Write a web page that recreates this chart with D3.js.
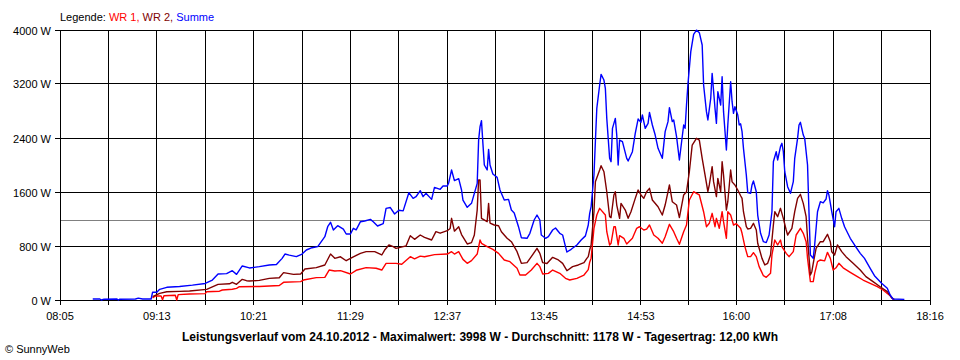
<!DOCTYPE html>
<html>
<head>
<meta charset="utf-8">
<script src="https://cdn.jsdelivr.net/npm/d3@7"></script>
<style>
  html, body { margin: 0; padding: 0; background: #fff; }
  svg { display: block; }
  text { font-family: "Liberation Sans", Arial, sans-serif; }
</style>
</head>
<body>
<svg id="chart" width="960" height="360"></svg>
<script>
// ---------- data ----------
const timeLabels = ["08:05","09:13","10:21","11:29","12:37","13:45","14:53","16:00","17:08","18:16"];
const yTickValues = [0, 800, 1600, 2400, 3200, 4000];
const averageValue = 1178;
const legendItems = [
  { text: "WR 1,", color: "#ff0000" },
  { text: " WR 2,", color: "#800000" },
  { text: " Summe", color: "#0000ff" }
];
const titleText = "Leistungsverlauf vom 24.10.2012 - Maximalwert: 3998 W - Durchschnitt: 1178 W - Tagesertrag: 12,00 kWh";
const copyrightText = "\u00A9 SunnyWeb";

// WR 1 (red)
const wr1 = [
  ["09:10",30],["09:12",59],["09:16",60],["09:17",5],["09:18",62],["09:26",70],["09:27",0],["09:28",80],
  ["09:36",89],["09:47",95],["09:48",123],["09:57",130],["09:59",148],["10:06",160],["10:09",173],["10:11",197],
  ["10:25",200],["10:32",207],["10:39",215],["10:42",262],["10:54",272],["10:56",296],["11:05",331],["11:11",335],
  ["11:14",444],["11:18",430],["11:22",435],["11:29",385],["11:33",440],["11:40",479],["11:47",470],["11:51",444],
  ["11:54",543],["12:01",543],["12:05",530],["12:11",642],["12:14",610],["12:18",650],["12:21",640],["12:28",672],
  ["12:37",681],["12:40",716],["12:42",681],["12:45",716],["12:48",602],["12:51",543],["12:54",583],["12:58",681],
  ["13:00",889],["13:01",840],["13:05",790],["13:09",751],["13:13",691],["13:17",593],["13:21",568],["13:26",469],
  ["13:28",370],["13:32",370],["13:36",444],["13:40",543],["13:42",494],["13:44",385],["13:48",395],["13:51",444],
  ["13:56",395],["14:00",321],["14:03",296],["14:08",321],["14:13",370],["14:16",450],["14:17",560],["14:18",620],
  ["14:20",1062],["14:22",1259],["14:24",1358],["14:28",1259],["14:29",1012],["14:31",815],["14:32",840],["14:34",1086],
  ["14:35",1086],["14:37",815],["14:38",953],["14:41",914],["14:43",830],["14:47",914],["14:50",1062],["14:52",1086],
  ["14:55",1037],["14:57",1050],["14:59",1111],["15:02",963],["15:05",914],["15:08",840],["15:10",938],["15:13",1121],
  ["15:16",1012],["15:18",914],["15:20",825],["15:23",1012],["15:25",1111],["15:27",1481],["15:30",1604],["15:32",1580],
  ["15:34",1556],["15:37",1308],["15:39",1086],["15:41",1136],["15:43",1284],["15:45",1086],["15:46",1210],["15:48",1062],
  ["15:50",1308],["15:51",1160],["15:53",914],["15:54",1308],["15:56",1260],["15:58",1111],["16:00",1130],["16:03",1062],
  ["16:04",988],["16:06",790],["16:08",642],["16:10",642],["16:12",701],["16:14",642],["16:16",494],["16:19",360],
  ["16:21",336],["16:24",395],["16:25",667],["16:27",889],["16:29",815],["16:31",889],["16:32",790],["16:35",691],
  ["16:37",642],["16:40",716],["16:42",963],["16:45",1062],["16:47",988],["16:49",864],["16:50",617],["16:52",272],
  ["16:54",272],["16:55",395],["16:57",568],["16:59",593],["17:02",580],["17:04",706],["17:06",617],["17:08",444],
  ["17:10",477],["17:12",543],["17:15",477],["17:20",410],["17:25",346],["17:29",296],["17:34",247],["17:39",197],
  ["17:43",148],["17:48",64],["17:50",10]
];

// WR 2 (dark red)
const wr2 = [
  ["09:10",49],["09:15",99],["09:20",123],["09:29",128],["09:36",133],["09:48",158],["09:56",232],["10:04",240],
  ["10:06",262],["10:09",232],["10:13",306],["10:16",286],["10:18",281],["10:25",290],["10:32",321],["10:39",330],
  ["10:42",405],["10:49",380],["10:54",385],["10:57",459],["11:05",479],["11:11",519],["11:15",681],["11:18",617],
  ["11:22",640],["11:26",582],["11:31",640],["11:36",691],["11:40",716],["11:46",716],["11:51",667],["11:53",740],
  ["11:56",815],["11:59",790],["12:01",765],["12:06",790],["12:08",800],["12:11",953],["12:14",899],["12:18",963],
  ["12:21",928],["12:26",889],["12:29",1012],["12:32",990],["12:37",1027],["12:39",1060],["12:40",1210],["12:42",1020],
  ["12:45",1086],["12:47",970],["12:51",830],["12:54",850],["12:56",963],["12:58",1333],["12:59",1778],["13:00",1778],
  ["13:01",1210],["13:05",1160],["13:06",1432],["13:07",1140],["13:10",1111],["13:13",1100],["13:15",1012],["13:19",914],
  ["13:22",864],["13:26",716],["13:29",543],["13:33",553],["13:36",642],["13:40",765],["13:42",691],["13:44",553],
  ["13:47",540],["13:51",632],["13:55",593],["13:58",543],["14:01",434],["14:05",494],["14:09",519],["14:13",553],
  ["14:15",617],["14:16",642],["14:17",741],["14:18",815],["14:20",1308],["14:21",1753],["14:24",1926],["14:25",1990],
  ["14:27",1901],["14:29",1604],["14:31",1234],["14:32",1220],["14:34",1556],["14:35",1604],["14:36",1407],["14:38",1210],
  ["14:39",1432],["14:42",1333],["14:44",1210],["14:46",1308],["14:49",1506],["14:51",1630],["14:53",1556],["14:55",1506],
  ["14:57",1604],["14:59",1654],["15:01",1481],["15:05",1382],["15:08",1259],["15:10",1407],["15:13",1704],["15:15",1456],
  ["15:18",1407],["15:20",1220],["15:23",1556],["15:25",1604],["15:27",1901],["15:29",2296],["15:32",2395],["15:34",2370],
  ["15:36",2099],["15:38",1852],["15:40",1604],["15:41",1704],["15:43",1975],["15:44",1753],["15:46",1531],["15:47",1802],
  ["15:49",1604],["15:50",2049],["15:51",1852],["15:53",1333],["15:54",1456],["15:56",1926],["15:57",1750],["15:59",1704],
  ["16:01",1630],["16:03",1545],["16:04",1506],["16:05",1308],["16:07",1086],["16:08",1052],["16:10",1062],["16:12",1136],
  ["16:14",1037],["16:15",840],["16:18",617],["16:20",519],["16:22",543],["16:24",667],["16:26",1111],["16:27",1308],
  ["16:29",1234],["16:31",1358],["16:33",1210],["16:35",1037],["16:36",963],["16:39",1062],["16:41",1308],["16:43",1506],
  ["16:45",1565],["16:47",1432],["16:49",1234],["16:50",914],["16:52",370],["16:53",420],["16:54",543],["16:56",765],
  ["16:59",864],["17:01",864],["17:04",973],["17:06",864],["17:07",716],["17:09",667],["17:11",815],["17:14",716],
  ["17:17",642],["17:22",543],["17:27",444],["17:31",346],["17:36",272],["17:41",197],["17:46",123],["17:49",35],
  ["17:51",5]
];

// Summe (blue)
const summe = [
  ["08:28",15],["08:33",15],["08:34",0],["08:36",12],["08:45",15],["08:46",0],["08:47",12],["08:58",15],
  ["09:00",28],["09:03",15],["09:09",15],["09:10",114],["09:13",114],["09:15",158],["09:20",188],["09:29",200],
  ["09:38",220],["09:47",245],["09:52",296],["09:56",385],["10:02",390],["10:06",434],["10:09",380],["10:13",504],
  ["10:18",475],["10:25",494],["10:32",519],["10:37",525],["10:41",617],["10:43",681],["10:46",665],["10:51",642],
  ["10:55",681],["10:58",741],["11:02",775],["11:06",790],["11:11",938],["11:13",1086],["11:15",1151],["11:17",1037],
  ["11:20",1101],["11:24",1050],["11:26",978],["11:29",978],["11:31",1062],["11:33",1040],["11:36",1160],["11:39",1170],
  ["11:43",1195],["11:45",1160],["11:48",1096],["11:52",1130],["11:54",1358],["11:57",1370],["12:00",1274],["12:03",1330],
  ["12:06",1320],["12:10",1590],["12:13",1506],["12:15",1530],["12:18",1620],["12:20",1531],["12:22",1580],["12:26",1491],
  ["12:28",1669],["12:32",1640],["12:34",1689],["12:37",1689],["12:38",1738],["12:40",1926],["12:42",1768],["12:45",1798],
  ["12:47",1630],["12:48",1481],["12:51",1373],["12:54",1432],["12:56",1580],["12:58",1728],["12:59",2370],["13:00",2568],
  ["13:01",2657],["13:02",2321],["13:03",2000],["13:05",1926],["13:06",2232],["13:07",2000],["13:09",1867],["13:12",1817],
  ["13:14",1630],["13:17",1481],["13:20",1490],["13:22",1333],["13:24",1290],["13:27",1086],["13:29",923],["13:33",914],
  ["13:35",988],["13:38",1185],["13:40",1259],["13:42",1185],["13:43",963],["13:46",914],["13:48",940],["13:51",1037],
  ["13:53",1067],["13:56",988],["13:58",963],["14:00",790],["14:01",711],["14:04",751],["14:08",815],["14:11",889],
  ["14:14",950],["14:16",1111],["14:17",1284],["14:18",1382],["14:20",1852],["14:21",2346],["14:22",2840],["14:24",3185],
  ["14:25",3343],["14:27",3259],["14:28",3136],["14:29",2691],["14:31",2099],["14:32",2049],["14:33",2543],["14:35",2691],
  ["14:36",2444],["14:37",2000],["14:38",2370],["14:40",2346],["14:43",2099],["14:44",2059],["14:47",2197],["14:49",2469],
  ["14:51",2681],["14:53",2632],["14:54",2741],["14:56",2543],["14:58",2617],["14:59",2780],["15:01",2593],["15:03",2444],
  ["15:05",2247],["15:08",2099],["15:10",2494],["15:12",2642],["15:13",2849],["15:15",2642],["15:16",2667],["15:18",2420],
  ["15:20",2074],["15:23",2593],["15:24",2543],["15:25",2889],["15:26",3195],["15:28",3679],["15:30",3936],["15:32",3998],
  ["15:34",3960],["15:36",3778],["15:37",3185],["15:39",2790],["15:40",2667],["15:42",2988],["15:43",3358],["15:45",2840],
  ["15:46",2617],["15:47",3086],["15:49",2889],["15:50",3308],["15:51",2790],["15:53",2222],["15:54",2593],["15:56",3234],
  ["15:57",2938],["15:58",2765],["15:59",2864],["16:01",2741],["16:02",2593],["16:03",2610],["16:04",2494],["16:05",2247],
  ["16:07",1852],["16:08",1590],["16:10",1580],["16:11",1704],["16:12",1763],["16:14",1604],["16:15",1259],["16:17",988],
  ["16:19",864],["16:21",850],["16:23",963],["16:25",1308],["16:26",2049],["16:28",2197],["16:29",2074],["16:31",2272],
  ["16:32",2321],["16:33",2197],["16:34",1901],["16:36",1679],["16:38",1580],["16:40",1753],["16:41",2099],["16:43",2395],
  ["16:44",2593],["16:45",2632],["16:47",2444],["16:48",2395],["16:50",2000],["16:51",1308],["16:52",667],["16:54",617],
  ["16:55",815],["16:57",1308],["16:59",1456],["17:01",1440],["17:03",1496],["17:04",1620],["17:05",1556],["17:07",1308],
  ["17:09",1086],["17:10",1308],["17:12",1358],["17:14",1210],["17:16",1086],["17:20",914],["17:23",815],["17:27",691],
  ["17:30",617],["17:34",469],["17:37",360],["17:42",247],["17:46",173],["17:48",74],["17:50",15],["17:58",10]
];

// ---------- drawing ----------
const toMin = s => { const [h, m] = s.split(":").map(Number); return h * 60 + m; };
const svg = d3.select("#chart");
const W = 960, H = 360;
const plot = { left: 60, right: 930, top: 30, bottom: 300 };

svg.append("rect").attr("width", W).attr("height", H).attr("fill", "#fff");

const labelMins = timeLabels.map(toMin);
const x = d3.scaleLinear()
  .domain([labelMins[0], labelMins[labelMins.length - 1]])
  .range([plot.left, plot.right]);
const y = d3.scaleLinear().domain([0, 4000]).range([plot.bottom, plot.top]);

// grid positions: labelled ticks + midpoints between them
const gridMins = [];
labelMins.forEach((m, i) => {
  gridMins.push(m);
  if (i < labelMins.length - 1) gridMins.push((m + labelMins[i + 1]) / 2);
});
const px = v => Math.floor(v) + 0.5;

// average line (gray)
svg.append("line")
  .attr("x1", plot.left).attr("x2", plot.right)
  .attr("y1", px(y(averageValue))).attr("y2", px(y(averageValue)))
  .attr("stroke", "#808080").attr("stroke-width", 1).attr("shape-rendering", "crispEdges");

// horizontal grid
svg.append("g").selectAll("line").data(yTickValues).join("line")
  .attr("x1", plot.left - 5).attr("x2", plot.right)
  .attr("y1", d => px(y(d))).attr("y2", d => px(y(d)))
  .attr("stroke", "#000").attr("stroke-width", 1).attr("shape-rendering", "crispEdges");

// vertical grid + ticks
svg.append("g").selectAll("line").data(gridMins).join("line")
  .attr("x1", d => px(x(d))).attr("x2", d => px(x(d)))
  .attr("y1", plot.top).attr("y2", plot.bottom + 5)
  .attr("stroke", "#000").attr("stroke-width", 1).attr("shape-rendering", "crispEdges");

// y labels
svg.append("g").selectAll("text").data(yTickValues).join("text")
  .attr("x", plot.left - 9).attr("y", d => px(y(d)) + 4)
  .attr("text-anchor", "end").attr("font-size", 11).attr("fill", "#000")
  .text(d => d + " W");

// x labels
svg.append("g").selectAll("text").data(timeLabels).join("text")
  .attr("x", d => x(toMin(d))).attr("y", 320)
  .attr("text-anchor", "middle").attr("font-size", 11).attr("fill", "#000")
  .text(d => d);

// series
const line = d3.line().x(d => x(toMin(d[0]))).y(d => y(d[1]));
[[wr1, "#ff0000"], [wr2, "#800000"], [summe, "#0000ff"]].forEach(([data, color]) => {
  svg.append("path").datum(data)
    .attr("d", line).attr("fill", "none")
    .attr("stroke", color).attr("stroke-width", 1.4).attr("stroke-linejoin", "round");
});

// legend
const legend = svg.append("text").attr("x", plot.left).attr("y", 21).attr("font-size", 11);
legend.append("tspan").attr("fill", "#000").text("Legende: ");
legend.selectAll("tspan.item").data(legendItems).join("tspan")
  .attr("class", "item").attr("fill", d => d.color).text(d => d.text);

// title
svg.append("text").attr("x", 480).attr("y", 341)
  .attr("text-anchor", "middle").attr("font-size", 12).attr("font-weight", "bold").attr("fill", "#000")
  .text(titleText);

// copyright
svg.append("text").attr("x", 5).attr("y", 353).attr("font-size", 11).attr("fill", "#000")
  .text(copyrightText);
</script>
</body>
</html>
